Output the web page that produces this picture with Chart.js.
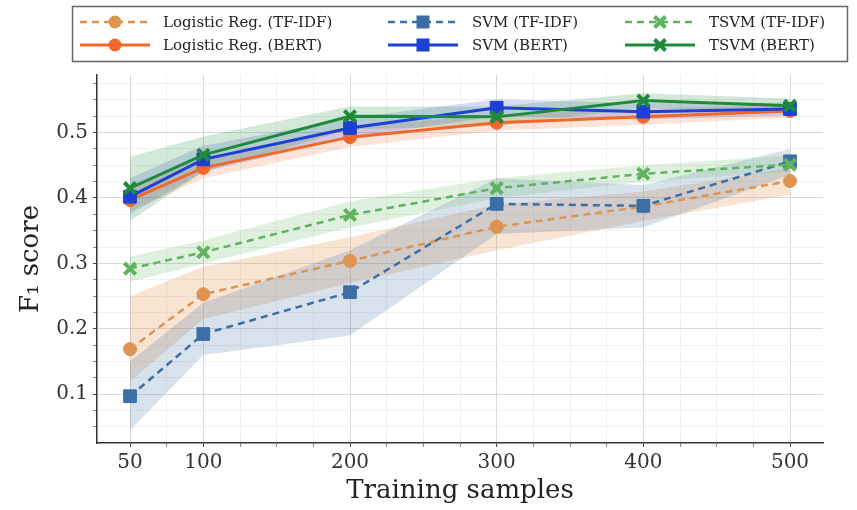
<!DOCTYPE html>
<html>
<head>
<meta charset="utf-8">
<style>
  html, body { margin: 0; padding: 0; background: #fff; }
  #wrap { width: 857px; height: 510px; }
</style>
<script src="https://cdn.jsdelivr.net/npm/chart.js@4.4.0/dist/chart.umd.min.js"></script>
</head>
<body>
<div id="wrap"><canvas id="chart" width="857" height="510"></canvas></div>
<script>
// training set sizes (x axis)
const samples = [50, 100, 200, 300, 400, 500];
const xTickLabels = [50, 100, 200, 300, 400, 500];
const yTickLabels = [0.1, 0.2, 0.3, 0.4, 0.5];

// mean F1 and the shaded band (lo / hi) per model
const lrTfidf     = [0.169, 0.253, 0.304, 0.356, 0.387, 0.426];
const lrTfidfLo   = [0.120, 0.215, 0.270, 0.320, 0.365, 0.405];
const lrTfidfHi   = [0.250, 0.295, 0.340, 0.390, 0.410, 0.445];

const svmTfidf    = [0.097, 0.192, 0.256, 0.391, 0.388, 0.456];
const svmTfidfLo  = [0.045, 0.160, 0.190, 0.345, 0.355, 0.435];
const svmTfidfHi  = [0.150, 0.240, 0.320, 0.430, 0.420, 0.475];

const tsvmTfidf   = [0.292, 0.317, 0.374, 0.415, 0.437, 0.451];
const tsvmTfidfLo = [0.272, 0.300, 0.355, 0.400, 0.425, 0.440];
const tsvmTfidfHi = [0.310, 0.335, 0.395, 0.430, 0.450, 0.465];

const lrBert      = [0.397, 0.446, 0.493, 0.515, 0.524, 0.533];
const lrBertLo    = [0.380, 0.430, 0.478, 0.503, 0.512, 0.523];
const lrBertHi    = [0.415, 0.462, 0.508, 0.528, 0.536, 0.543];

const svmBert     = [0.402, 0.459, 0.507, 0.538, 0.532, 0.536];
const svmBertLo   = [0.375, 0.440, 0.492, 0.525, 0.520, 0.526];
const svmBertHi   = [0.430, 0.480, 0.522, 0.551, 0.545, 0.546];

const tsvmBert    = [0.415, 0.466, 0.525, 0.524, 0.549, 0.541];
const tsvmBertLo  = [0.365, 0.440, 0.505, 0.510, 0.538, 0.530];
const tsvmBertHi  = [0.463, 0.494, 0.540, 0.540, 0.560, 0.552];

const FONT = "'DejaVu Serif', 'Liberation Serif', serif";

// series drawn top-most first
const series = [
  { label: 'TSVM (BERT)',            data: tsvmBert,  lo: tsvmBertLo,  hi: tsvmBertHi,  color: '#1f8a3b', band: 'rgba(31,138,59,0.20)',   marker: 'crossRot', dash: [] },
  { label: 'SVM (BERT)',             data: svmBert,   lo: svmBertLo,   hi: svmBertHi,   color: '#1d3fd4', band: 'rgba(29,63,212,0.18)',   marker: 'rect',     dash: [] },
  { label: 'Logistic Reg. (BERT)',   data: lrBert,    lo: lrBertLo,    hi: lrBertHi,    color: '#f0692a', band: 'rgba(240,105,42,0.18)',  marker: 'circle',   dash: [] },
  { label: 'TSVM (TF-IDF)',          data: tsvmTfidf, lo: tsvmTfidfLo, hi: tsvmTfidfHi, color: '#5fb35f', band: 'rgba(95,179,95,0.20)',   marker: 'crossRot', dash: [7, 5] },
  { label: 'SVM (TF-IDF)',           data: svmTfidf,  lo: svmTfidfLo,  hi: svmTfidfHi,  color: '#3c6ea6', band: 'rgba(60,110,166,0.20)',  marker: 'rect',     dash: [7, 5] },
  { label: 'Logistic Reg. (TF-IDF)', data: lrTfidf,   lo: lrTfidfLo,   hi: lrTfidfHi,   color: '#de9450', band: 'rgba(222,148,80,0.25)',  marker: 'circle',   dash: [7, 5] }
];

function pts(arr) {
  return samples.map((x, i) => ({ x: x, y: arr[i] }));
}

function markerRadius(m) {
  if (m === 'rect') return 9;
  if (m === 'crossRot') return 8;
  return 6.5;
}

const datasets = [];
series.forEach(s => {
  datasets.push({
    label: s.label,
    data: pts(s.data),
    borderColor: s.color,
    backgroundColor: s.color,
    borderWidth: s.dash.length ? 2.5 : 3,
    borderDash: s.dash,
    pointStyle: s.marker,
    pointRadius: markerRadius(s.marker),
    pointBorderWidth: s.marker === 'crossRot' ? 4 : 1,
    pointBackgroundColor: s.color,
    pointBorderColor: s.color,
    fill: false,
    tension: 0
  });
});
// shaded bands go after the lines so they sit underneath
series.forEach(s => {
  datasets.push({
    label: s.label + ' hi',
    data: pts(s.hi),
    borderWidth: 0,
    pointRadius: 0,
    fill: false
  });
  datasets.push({
    label: s.label + ' lo',
    data: pts(s.lo),
    borderWidth: 0,
    pointRadius: 0,
    backgroundColor: s.band,
    fill: '-1'
  });
});

// minor ticks every 25 samples / 0.025 F1
const xAll = [];
for (let v = 50; v <= 500; v += 25) xAll.push(v);
const yAll = [];
for (let k = 2; k <= 23; k++) yAll.push(Math.round(k * 25) / 1000);

const isMajorY = v => yTickLabels.some(t => Math.abs(t - v) < 1e-6);
const isMajorX = v => xTickLabels.includes(v);

function drawMarker(ctx, m, x, y, color) {
  ctx.fillStyle = color;
  ctx.strokeStyle = color;
  ctx.setLineDash([]);
  if (m === 'circle') {
    ctx.beginPath();
    ctx.arc(x, y, 6.5, 0, Math.PI * 2);
    ctx.fill();
  } else if (m === 'rect') {
    ctx.fillRect(x - 6.5, y - 6.5, 13, 13);
  } else {
    ctx.lineWidth = 4;
    const d = 5.5;
    ctx.beginPath();
    ctx.moveTo(x - d, y - d); ctx.lineTo(x + d, y + d);
    ctx.moveTo(x + d, y - d); ctx.lineTo(x - d, y + d);
    ctx.stroke();
  }
}

const boxLegend = {
  id: 'boxLegend',
  afterDraw(chart) {
    const ctx = chart.ctx;
    ctx.save();
    ctx.fillStyle = '#fff';
    ctx.fillRect(72, 6, 776, 56);
    ctx.strokeStyle = '#666';
    ctx.lineWidth = 1.5;
    ctx.strokeRect(72.5, 6.5, 775, 55);

    const cols = [
      { sx: 80,  tx: 163 },
      { sx: 388, tx: 472 },
      { sx: 625, tx: 709 }
    ];
    const rows = [22, 45];
    // legend order: columns LR / SVM / TSVM, rows TF-IDF / BERT
    const order = [
      ['Logistic Reg. (TF-IDF)', 'SVM (TF-IDF)', 'TSVM (TF-IDF)'],
      ['Logistic Reg. (BERT)', 'SVM (BERT)', 'TSVM (BERT)']
    ];
    order.forEach((row, r) => {
      row.forEach((name, c) => {
        const s = series.find(e => e.label === name);
        const y = rows[r];
        const x0 = cols[c].sx, x1 = x0 + 70;
        ctx.strokeStyle = s.color;
        ctx.lineWidth = s.dash.length ? 2.5 : 3;
        ctx.setLineDash(s.dash);
        ctx.beginPath();
        ctx.moveTo(x0, y); ctx.lineTo(x1, y);
        ctx.stroke();
        drawMarker(ctx, s.marker, (x0 + x1) / 2, y, s.color);
        ctx.fillStyle = '#222';
        ctx.font = '15px ' + FONT;
        ctx.textBaseline = 'middle';
        ctx.fillText(name, cols[c].tx, y + 1);
      });
    });
    ctx.restore();
  }
};

new Chart(document.getElementById('chart').getContext('2d'), {
  type: 'line',
  data: { datasets: datasets },
  plugins: [boxLegend],
  options: {
    responsive: false,
    animation: false,
    devicePixelRatio: 1,
    layout: { padding: { top: 75, right: 34, left: 0, bottom: 0 } },
    plugins: {
      legend: { display: false },
      tooltip: { enabled: false },
      filler: { drawTime: 'beforeDatasetsDraw', propagate: false }
    },
    scales: {
      x: {
        type: 'linear',
        min: 27.5,
        max: 522.5,
        afterFit: s => { s.height = 67; },
        afterBuildTicks: s => { s.ticks = xAll.map(v => ({ value: v })); },
        ticks: {
          autoSkip: false,
          maxRotation: 0,
          padding: 4,
          color: '#333',
          font: { family: FONT, size: 20 },
          callback: v => isMajorX(v) ? String(v) : ''
        },
        grid: {
          color: c => isMajorX(c.tick.value) ? '#d8d8d8' : '#f0f0f0',
          tickColor: c => isMajorX(c.tick.value) ? '#444' : '#888',
          tickLength: 4,
          lineWidth: 1
        },
        border: { display: true, color: '#333', width: 1.5 },
        title: {
          display: true,
          text: 'Training samples',
          color: '#222',
          font: { family: FONT, size: 26 },
          padding: { top: 0, bottom: 3 }
        }
      },
      y: {
        type: 'linear',
        min: 0.0255,
        max: 0.588,
        afterFit: s => { s.width = 97; },
        afterBuildTicks: s => { s.ticks = yAll.map(v => ({ value: v })); },
        ticks: {
          autoSkip: false,
          padding: 5,
          color: '#333',
          font: { family: FONT, size: 20 },
          callback: v => isMajorY(v) ? v.toFixed(1) : ''
        },
        grid: {
          color: c => isMajorY(c.tick.value) ? '#d8d8d8' : '#f0f0f0',
          tickColor: c => isMajorY(c.tick.value) ? '#444' : '#888',
          tickLength: 4,
          lineWidth: 1
        },
        border: { display: true, color: '#333', width: 1.5 },
        title: {
          display: true,
          text: 'F\u2081 score',
          color: '#222',
          font: { family: FONT, size: 26 },
          padding: { top: 16, bottom: 0 }
        }
      }
    }
  }
});
</script>
</body>
</html>
